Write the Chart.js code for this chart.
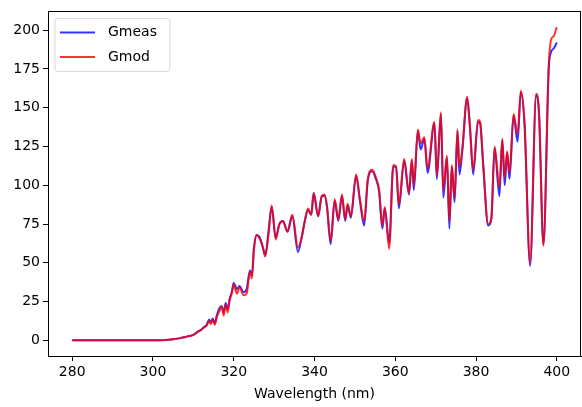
<!DOCTYPE html>
<html>
<head>
<meta charset="utf-8">
<script src="https://cdn.jsdelivr.net/npm/chart.js@4.4.1/dist/chart.umd.min.js"></script>
<style>
  html, body { margin: 0; padding: 0; background: #fff; }
  #wrap { width: 582px; height: 407px; position: relative; }
</style>
</head>
<body>
<div id="wrap"><canvas id="c" width="582" height="407"></canvas></div>
<script>
const wavelengths = [280, 285, 290, 295, 300, 302, 304, 305, 306, 307, 308, 309, 310, 311, 312, 312.6, 313.3, 313.9, 314.3, 314.8, 315.3, 315.8, 316.5, 317, 317.5, 318, 318.5, 319, 319.5, 320, 320.8, 321.4, 322.5, 323.2, 324, 324.5, 325, 325.7, 326.5, 327.2, 327.8, 328.6, 329.4, 330.4, 331.3, 332.2, 333.3, 334.5, 335.9, 336.8, 337.6, 338.4, 339.2, 339.8, 340.9, 341.8, 342.5, 343.1, 344, 345, 345.9, 346.8, 347.6, 348.2, 349, 350.3, 351.3, 352.3, 353.2, 354.3, 355.2, 356, 356.8, 357.4, 358.5, 359.5, 360.2, 360.9, 362.2, 363.4, 364.1, 364.6, 365.6, 366.3, 367.2, 368, 369.7, 370.3, 371.3, 371.9, 372.8, 373.4, 374, 374.7, 375.4, 375.9, 376.6, 377.8, 378.5, 379.3, 380.5, 381, 381.8, 383, 383.8, 384.6, 385.8, 386.5, 387.1, 387.7, 388.3, 389.3, 390.3, 391.1, 392, 393.4, 394.9, 395.6, 396.7, 398, 398.6, 399.2, 400];

const gmeas = [0, 0, 0, 0, 0, 0.1, 0.4, 0.7, 1.1, 1.6, 2.2, 2.8, 3.5, 5.5, 7, 8.5, 10, 13.5, 11.5, 14, 11, 16, 21, 22, 18, 24, 20, 27, 31, 37, 33, 35, 31, 33, 45, 42, 60, 68, 66, 60, 55, 70, 86, 66, 75, 77, 70, 80, 57, 66, 77, 84, 81, 95, 80, 93, 93, 86, 62, 90, 77, 93, 77, 87, 79, 106, 89, 74, 103, 109, 104, 96, 72, 85, 63, 112, 112, 85, 116, 94, 116, 97, 135, 123, 130, 108, 140, 104, 146, 92, 118, 72, 112, 89, 135, 107, 122, 156, 137, 107, 141, 140, 112, 74, 78, 124, 93, 129, 100, 121, 104, 145, 128, 160, 140, 48, 158, 146, 62, 175, 186, 188, 192];

const gmod = [0, 0, 0, 0, 0, 0.1, 0.4, 0.7, 1.1, 1.6, 2.2, 2.8, 3.5, 5.3, 6.8, 8.2, 9.5, 12.5, 10.5, 13.5, 10, 15, 19, 22, 16, 23, 18, 26, 30, 36, 30, 34, 29, 30, 44, 40, 58, 68, 65, 60, 54, 68, 87, 65, 75, 77, 70, 81, 60, 66, 77, 85, 81, 95, 80, 93, 94, 86, 64, 91, 78, 94, 78, 88, 80, 107, 90, 77, 104, 110, 105, 97, 74, 86, 59, 113, 112, 88, 117, 95, 117, 100, 136, 127, 131, 111, 141, 106, 147, 97, 119, 77, 113, 92, 136, 112, 123, 157, 138, 110, 142, 141, 113, 75, 79, 125, 99, 130, 105, 122, 108, 146, 133, 161, 141, 50, 159, 147, 61, 176, 194, 196, 202];

const xTicks = [280, 300, 320, 340, 360, 380, 400];
const yTicks = [0, 25, 50, 75, 100, 125, 150, 175, 200];
const seriesNames = ['Gmeas', 'Gmod'];
const seriesColors = ['rgba(0,0,255,0.8)', 'rgba(255,0,0,0.8)'];

const FONT = 'DejaVu Sans';
const FS = 14;

const toPoints = (vals) => wavelengths.map((w, i) => ({ x: w, y: vals[i] }));

const frameAndLegend = {
  id: 'frameAndLegend',
  afterDraw(chart) {
    const ctx = chart.ctx;
    const a = chart.chartArea;
    ctx.save();
    ctx.strokeStyle = '#000';
    ctx.lineWidth = 1;
    ctx.strokeRect(Math.round(a.left) + 0.5, Math.round(a.top) + 0.5,
                   Math.round(a.right - a.left) - 1, Math.round(a.bottom - a.top));
    const bx = a.left + 7, by = a.top + 7, bw = 115, bh = 53, r = 3;
    ctx.beginPath();
    ctx.moveTo(bx + r, by);
    ctx.lineTo(bx + bw - r, by);
    ctx.quadraticCurveTo(bx + bw, by, bx + bw, by + r);
    ctx.lineTo(bx + bw, by + bh - r);
    ctx.quadraticCurveTo(bx + bw, by + bh, bx + bw - r, by + bh);
    ctx.lineTo(bx + r, by + bh);
    ctx.quadraticCurveTo(bx, by + bh, bx, by + bh - r);
    ctx.lineTo(bx, by + r);
    ctx.quadraticCurveTo(bx, by, bx + r, by);
    ctx.closePath();
    ctx.fillStyle = 'rgba(255,255,255,0.8)';
    ctx.fill();
    ctx.strokeStyle = 'rgba(204,204,204,0.8)';
    ctx.stroke();
    ctx.font = FS + 'px "' + FONT + '"';
    ctx.textBaseline = 'middle';
    ctx.textAlign = 'left';
    chart.data.datasets.forEach((ds, i) => {
      const yy = by + 14 + i * 24.5;
      ctx.strokeStyle = ds.borderColor;
      ctx.lineWidth = 2;
      ctx.beginPath();
      ctx.moveTo(bx + 5, yy);
      ctx.lineTo(bx + 40, yy);
      ctx.stroke();
      ctx.fillStyle = '#000';
      ctx.fillText(ds.label, bx + 53, yy);
    });
    ctx.restore();
  }
};

new Chart(document.getElementById('c'), {
  type: 'line',
  data: {
    datasets: [
      { label: seriesNames[0], data: toPoints(gmeas), borderColor: seriesColors[0], borderWidth: 2, pointRadius: 0, cubicInterpolationMode: 'monotone', fill: false, order: 1 },
      { label: seriesNames[1], data: toPoints(gmod), borderColor: seriesColors[1], borderWidth: 2, pointRadius: 0, cubicInterpolationMode: 'monotone', fill: false, order: 0 }
    ]
  },
  options: {
    responsive: false,
    animation: false,
    layout: { padding: { top: 6, right: 1, left: 0, bottom: 0 } },
    plugins: { legend: { display: false }, tooltip: { enabled: false } },
    scales: {
      x: {
        type: 'linear',
        min: 274, max: 406,
        afterBuildTicks: (s) => { s.ticks = xTicks.map(v => ({ value: v })); },
        afterFit: (s) => { s.height = 51; },
        grid: { drawOnChartArea: false, drawTicks: true, tickLength: 5, color: '#000', tickColor: '#000' },
        border: { display: true, color: '#000', width: 1 },
        ticks: { color: '#000', font: { family: FONT, size: FS }, padding: 3, maxRotation: 0, autoSkip: false },
        title: { display: true, text: 'Wavelength (nm)', color: '#000', font: { family: FONT, size: FS }, padding: { top: 0, bottom: 4 } }
      },
      y: {
        type: 'linear',
        min: -10.1, max: 212.1,
        afterBuildTicks: (s) => { s.ticks = yTicks.map(v => ({ value: v })); },
        afterFit: (s) => { s.width = 48; },
        grid: { drawOnChartArea: false, drawTicks: true, tickLength: 5, color: '#000', tickColor: '#000' },
        border: { display: true, color: '#000', width: 1 },
        ticks: { color: '#000', font: { family: FONT, size: FS }, padding: 3, autoSkip: false }
      }
    }
  },
  plugins: [frameAndLegend]
});
</script>
</body>
</html>
